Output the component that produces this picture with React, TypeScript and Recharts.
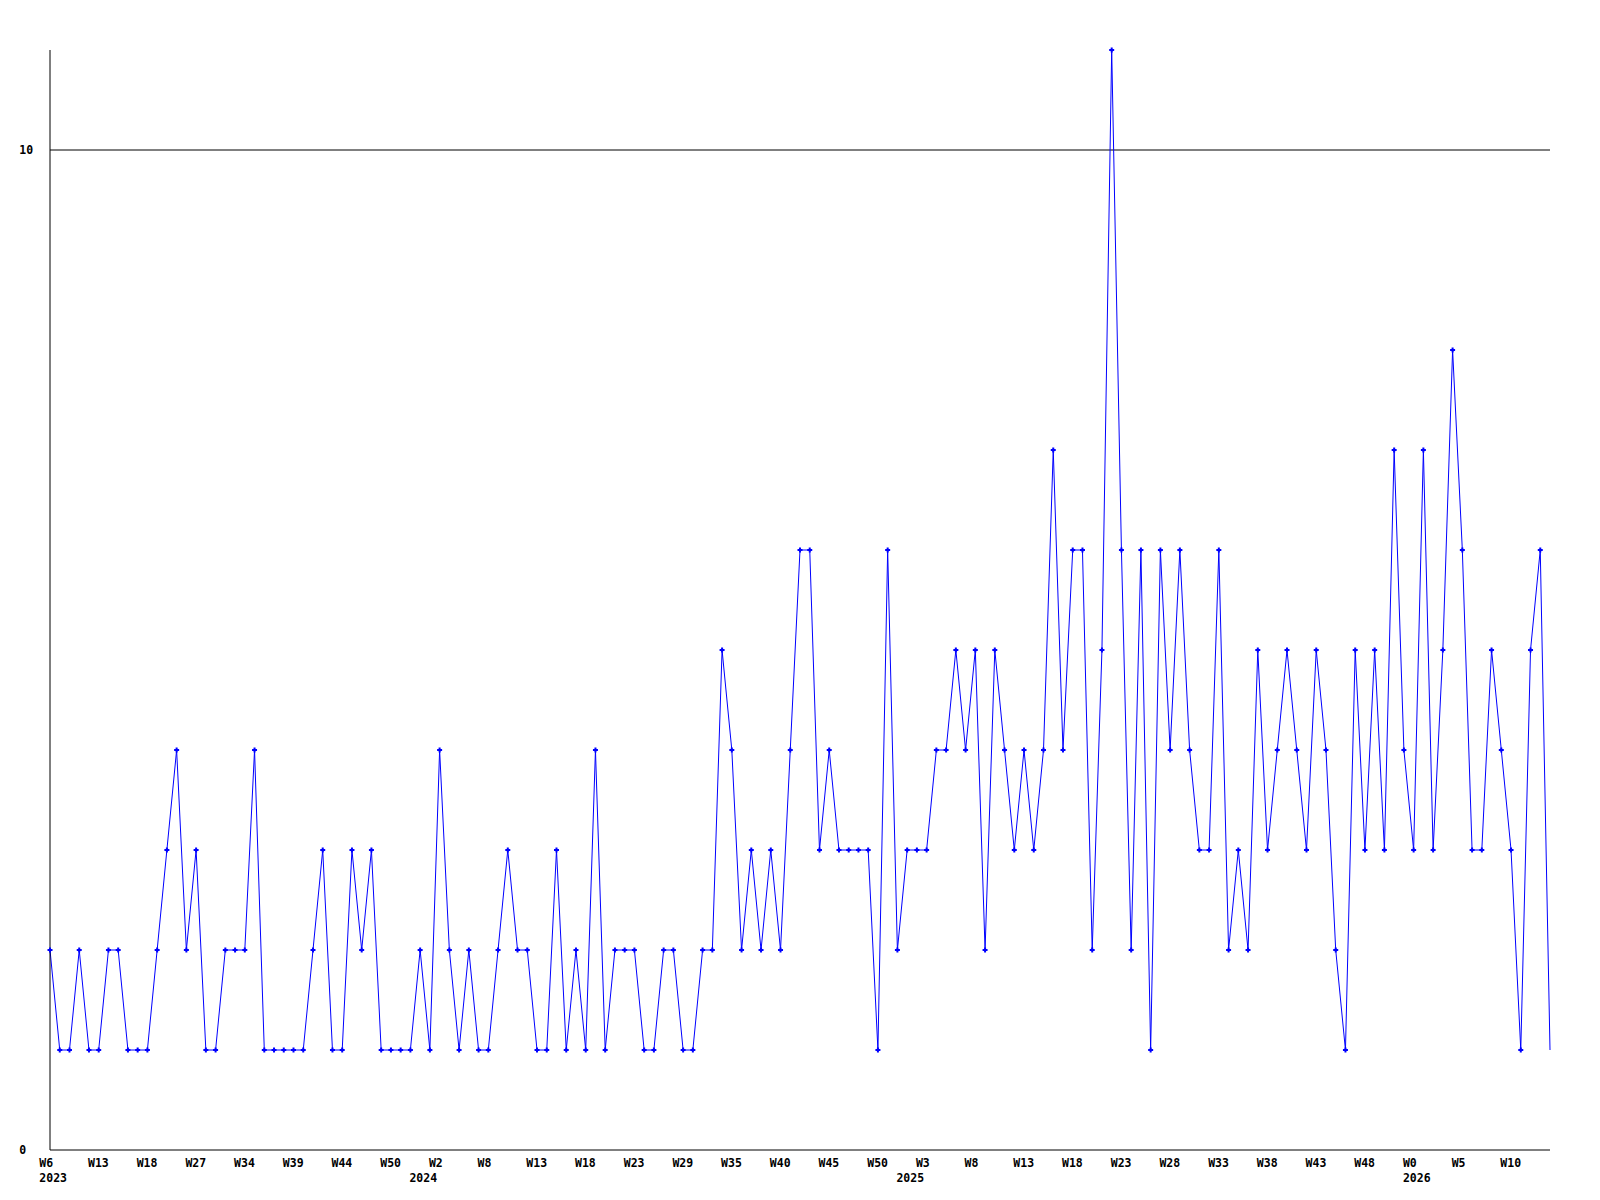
import React from 'react';
import { LineChart, Line, XAxis, YAxis, ReferenceLine } from 'recharts';

const values: number[] = [
  2, 1, 1, 2, 1, 1, 2, 2, 1, 1,
  1, 2, 3, 4, 2, 3, 1, 1, 2, 2,
  2, 4, 1, 1, 1, 1, 1, 2, 3, 1,
  1, 3, 2, 3, 1, 1, 1, 1, 2, 1,
  4, 2, 1, 2, 1, 1, 2, 3, 2, 2,
  1, 1, 3, 1, 2, 1, 4, 1, 2, 2,
  2, 1, 1, 2, 2, 1, 1, 2, 2, 5,
  4, 2, 3, 2, 3, 2, 4, 6, 6, 3,
  4, 3, 3, 3, 3, 1, 6, 2, 3, 3,
  3, 4, 4, 5, 4, 5, 2, 5, 4, 3,
  4, 3, 4, 7, 4, 6, 6, 2, 5, 11,
  6, 2, 6, 1, 6, 4, 6, 4, 3, 3,
  6, 2, 3, 2, 5, 3, 4, 5, 4, 3,
  5, 4, 2, 1, 5, 3, 5, 3, 7, 4,
  3, 7, 3, 5, 8, 6, 3, 3, 5, 4,
  3, 1, 5, 6, 1,
];

const weekLabels: string[] = [
  'W6', 'W13', 'W18', 'W27', 'W34', 'W39', 'W44', 'W50',
  'W2', 'W8', 'W13', 'W18', 'W23', 'W29', 'W35', 'W40', 'W45', 'W50',
  'W3', 'W8', 'W13', 'W18', 'W23', 'W28', 'W33', 'W38', 'W43', 'W48',
  'W0', 'W5', 'W10',
];
const weekLabelStep = 5;

const yearLabels: string[] = ['2023', '2024', '2025', '2026'];
const yearStartIndex: number[] = [0, 38, 88, 140];

const yTicks: number[] = [0, 10];

const data = values.map((v, i) => ({ i, v }));
const weekTicks = weekLabels.map((_, k) => k * weekLabelStep);
const allTicks = Array.from(new Set([...weekTicks, ...yearStartIndex])).sort((a, b) => a - b);

const FONT = '"DejaVu Sans Mono", "Liberation Mono", monospace';

const XTick = (props: any) => {
  const { x, y, payload } = props;
  const idx = payload.value as number;
  const wk = idx % weekLabelStep === 0 ? weekLabels[idx / weekLabelStep] : undefined;
  const yi = yearStartIndex.indexOf(idx);
  return (
    <g>
      {wk !== undefined && (
        <text x={x - 10.7} y={y + 16.5} textAnchor="start" fontFamily={FONT} fontWeight="bold" fontSize={11.5} fill="#000">
          {wk}
        </text>
      )}
      {yi >= 0 && (
        <text x={x - 10.7} y={y + 32} textAnchor="start" fontFamily={FONT} fontWeight="bold" fontSize={11.5} fill="#000">
          {yearLabels[yi]}
        </text>
      )}
    </g>
  );
};

const YTick = (props: any) => {
  const { x, y, payload } = props;
  return (
    <text x={x - 30.7} y={y + 4.3} textAnchor="start" fontFamily={FONT} fontWeight="bold" fontSize={11.5} fill="#000">
      {payload.value}
    </text>
  );
};

const Marker = (props: any) => {
  const { cx, cy, index } = props;
  if (cx == null || cy == null || index === values.length - 1) return <g key={`m${index}`} />;
  return (
    <g key={`m${index}`}>
      <rect x={cx - 2.5} y={cy - 1} width={5} height={2} fill="#0000ff" />
      <rect x={cx - 1} y={cy - 2.5} width={2} height={5} fill="#0000ff" />
    </g>
  );
};

export default function App() {
  return (
    <div style={{ position: 'absolute', left: 0, top: 0, width: 1600, height: 1200, background: '#fff' }}>
      <LineChart width={1600} height={1200} data={data} margin={{ top: 50, right: 50, bottom: 0, left: 0 }}>
        <XAxis
          dataKey="i"
          type="number"
          domain={[0, values.length - 1]}
          ticks={allTicks}
          interval={0}
          tickLine={false}
          tickSize={0}
          tickMargin={0}
          height={50}
          axisLine={{ stroke: '#000', strokeWidth: 1 }}
          tick={<XTick />}
        />
        <YAxis
          type="number"
          domain={[0, 11]}
          ticks={yTicks}
          interval={0}
          tickLine={false}
          tickSize={0}
          tickMargin={0}
          width={50}
          axisLine={{ stroke: '#000', strokeWidth: 1 }}
          tick={<YTick />}
        />
        <ReferenceLine y={10} stroke="#000" strokeWidth={1} />
        <Line
          type="linear"
          dataKey="v"
          stroke="#0000ff"
          strokeWidth={1}
          dot={<Marker />}
          activeDot={false}
          isAnimationActive={false}
        />
      </LineChart>
    </div>
  );
}
